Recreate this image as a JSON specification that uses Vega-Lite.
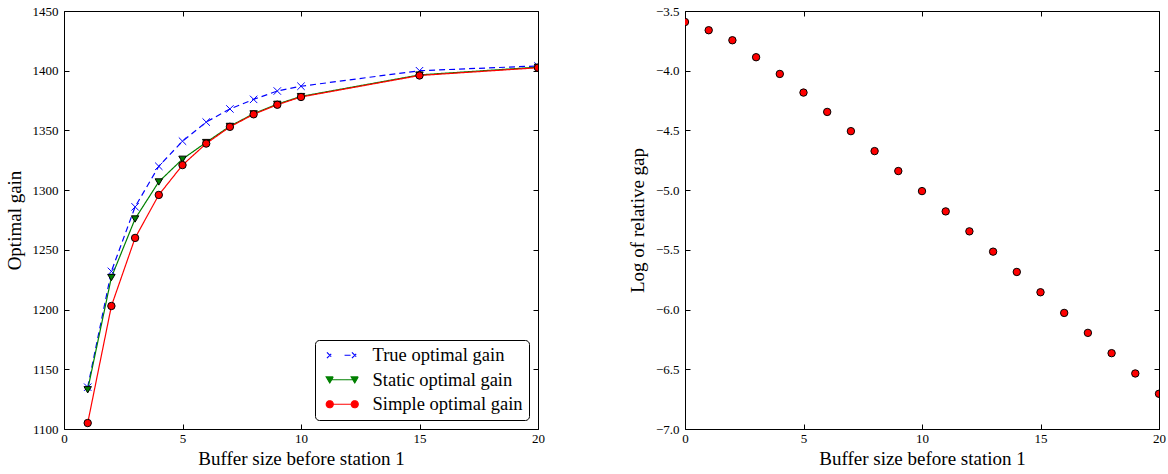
{
  "$schema": "https://vega.github.io/schema/vega-lite/v6.json",
  "padding": {"top": 5, "left": 5, "right": 2, "bottom": 2},
  "background": "white",
  "config": {
    "view": {"stroke": null},
    "font": "Liberation Serif",
    "axis": {
      "labelFont": "Liberation Serif", "labelFontSize": 13, "labelColor": "black",
      "titleFont": "Liberation Serif", "titleFontSize": 19, "titleFontWeight": "normal", "titleColor": "black",
      "domainColor": "black", "domainWidth": 1, "tickColor": "black", "tickWidth": 1, "tickSize": -5,
      "grid": false, "labelFlush": false, "labelOverlap": false
    },
    "axisX": {"labelPadding": 8, "titlePadding": 4},
    "axisY": {"labelPadding": 11, "titlePadding": 8}
  },
  "resolve": {
    "scale": {"color": "independent", "strokeDash": "independent"},
    "legend": {"color": "independent", "strokeDash": "independent"}
  },
  "spacing": 83,
  "hconcat": [
    {
      "width": 474, "height": 418,
      "data": {"values": [
        {"x": 1, "gain": 1135, "series": "True optimal gain"},
        {"x": 2, "gain": 1232, "series": "True optimal gain"},
        {"x": 3, "gain": 1286, "series": "True optimal gain"},
        {"x": 4, "gain": 1320, "series": "True optimal gain"},
        {"x": 5, "gain": 1341, "series": "True optimal gain"},
        {"x": 6, "gain": 1357, "series": "True optimal gain"},
        {"x": 7, "gain": 1368, "series": "True optimal gain"},
        {"x": 8, "gain": 1376, "series": "True optimal gain"},
        {"x": 9, "gain": 1383, "series": "True optimal gain"},
        {"x": 10, "gain": 1387, "series": "True optimal gain"},
        {"x": 15, "gain": 1400, "series": "True optimal gain"},
        {"x": 20, "gain": 1404, "series": "True optimal gain"},
        {"x": 1, "gain": 1133, "series": "Static optimal gain"},
        {"x": 2, "gain": 1227, "series": "Static optimal gain"},
        {"x": 3, "gain": 1276, "series": "Static optimal gain"},
        {"x": 4, "gain": 1307, "series": "Static optimal gain"},
        {"x": 5, "gain": 1326, "series": "Static optimal gain"},
        {"x": 6, "gain": 1340, "series": "Static optimal gain"},
        {"x": 7, "gain": 1353.5, "series": "Static optimal gain"},
        {"x": 8, "gain": 1364, "series": "Static optimal gain"},
        {"x": 9, "gain": 1372, "series": "Static optimal gain"},
        {"x": 10, "gain": 1378.5, "series": "Static optimal gain"},
        {"x": 15, "gain": 1396.5, "series": "Static optimal gain"},
        {"x": 20, "gain": 1403, "series": "Static optimal gain"},
        {"x": 1, "gain": 1105, "series": "Simple optimal gain"},
        {"x": 2, "gain": 1203, "series": "Simple optimal gain"},
        {"x": 3, "gain": 1260, "series": "Simple optimal gain"},
        {"x": 4, "gain": 1296, "series": "Simple optimal gain"},
        {"x": 5, "gain": 1321, "series": "Simple optimal gain"},
        {"x": 6, "gain": 1339, "series": "Simple optimal gain"},
        {"x": 7, "gain": 1353, "series": "Simple optimal gain"},
        {"x": 8, "gain": 1363.5, "series": "Simple optimal gain"},
        {"x": 9, "gain": 1371.5, "series": "Simple optimal gain"},
        {"x": 10, "gain": 1378, "series": "Simple optimal gain"},
        {"x": 15, "gain": 1396, "series": "Simple optimal gain"},
        {"x": 20, "gain": 1402.5, "series": "Simple optimal gain"}
      ]},
      "layer": [
        {
          "mark": {"type": "line", "strokeWidth": 1.2, "clip": true},
          "encoding": {
            "x": {"field": "x", "type": "quantitative", "scale": {"domain": [0, 20], "nice": false, "zero": false},
                  "axis": {"orient": "bottom", "title": "Buffer size before station 1", "values": [0, 5, 10, 15, 20]}},
            "y": {"field": "gain", "type": "quantitative", "scale": {"domain": [1100, 1450], "nice": false, "zero": false},
                  "axis": {"orient": "left", "title": "Optimal gain", "format": "d", "values": [1100, 1150, 1200, 1250, 1300, 1350, 1400, 1450]}},
            "color": {"field": "series", "type": "nominal",
              "scale": {"domain": ["True optimal gain", "Static optimal gain", "Simple optimal gain"], "range": ["#0000ff", "#008000", "#ff0000"]},
              "legend": {
                "title": null, "orient": "bottom-right", "offset": 9, "padding": 6, "cornerRadius": 4,
                "strokeColor": "black", "fillColor": "white", "labelFont": "Liberation Serif", "labelFontSize": 18.5,
                "labelColor": "black", "labelLimit": 400, "symbolSize": 49, "symbolOffset": 12, "labelOffset": 21,
                "rowPadding": 5.5, "symbolStrokeWidth": 1.2,
                "encode": {"symbols": {"update": {
                  "shape": {"signal": "datum.value === 'True optimal gain' ? 'M-4.37,-0.8L-2.77,0.8M-4.37,0.8L-2.77,-0.8M0.66,0L3.57,0M2.77,-0.8L4.37,0.8M2.77,0.8L4.37,-0.8' : datum.value === 'Static optimal gain' ? 'M-4.57,-0.8L-2.57,-0.8L-3.57,0.9ZM-2.9,0L2.9,0M2.57,-0.8L4.57,-0.8L3.57,0.9Z' : 'M-2.57,0A1,1,0,1,1,-4.57,0A1,1,0,1,1,-2.57,0ZM-2.57,0L2.57,0M4.57,0A1,1,0,1,1,2.57,0A1,1,0,1,1,4.57,0Z'"},
                  "fill": {"signal": "datum.value === 'True optimal gain' ? 'transparent' : datum.value === 'Static optimal gain' ? '#008000' : '#ff0000'"},
                  "stroke": {"signal": "datum.value === 'True optimal gain' ? '#0000ff' : datum.value === 'Static optimal gain' ? '#008000' : '#ff0000'"},
                  "strokeDash": {"value": [1, 0]},
                  "strokeWidth": {"value": 1.2},
                  "opacity": {"value": 1}
                }}}
              }},
            "strokeDash": {"field": "series", "type": "nominal",
              "scale": {"domain": ["True optimal gain", "Static optimal gain", "Simple optimal gain"], "range": [[6, 4], [1, 0], [1, 0]]},
              "legend": null}
          }
        },
        {
          "transform": [{"filter": "datum.series === 'True optimal gain'"}],
          "mark": {"type": "point", "shape": "M-1,-1L1,1M-1,1L1,-1", "size": 55, "opacity": 1, "strokeWidth": 1, "fill": "transparent", "stroke": "#0000ff", "clip": true},
          "encoding": {
            "x": {"field": "x", "type": "quantitative", "axis": {"orient": "top", "labels": false, "title": null, "values": [0, 5, 10, 15, 20]}},
            "y": {"field": "gain", "type": "quantitative", "axis": {"orient": "right", "labels": false, "title": null, "values": [1100, 1150, 1200, 1250, 1300, 1350, 1400, 1450]}}
          }
        },
        {
          "transform": [{"filter": "datum.series === 'Static optimal gain'"}],
          "mark": {"type": "point", "shape": "M-1,-0.8L1,-0.8L0,0.9Z", "size": 55, "opacity": 1, "strokeWidth": 1, "filled": true, "fill": "#008000", "stroke": "black", "clip": true},
          "encoding": {
            "x": {"field": "x", "type": "quantitative", "axis": null},
            "y": {"field": "gain", "type": "quantitative", "axis": null}
          }
        },
        {
          "transform": [{"filter": "datum.series === 'Simple optimal gain'"}],
          "mark": {"type": "point", "shape": "circle", "size": 55, "opacity": 1, "strokeWidth": 1, "filled": true, "fill": "#ff0000", "stroke": "black", "clip": true},
          "encoding": {
            "x": {"field": "x", "type": "quantitative", "axis": null},
            "y": {"field": "gain", "type": "quantitative", "axis": null}
          }
        }
      ],
      "resolve": {"axis": {"x": "independent", "y": "independent"}}
    },
    {
      "width": 474, "height": 418,
      "data": {"values": [
        {"x": 0, "gap": -3.592}, {"x": 1, "gap": -3.661}, {"x": 2, "gap": -3.745}, {"x": 3, "gap": -3.887},
        {"x": 4, "gap": -4.027}, {"x": 5, "gap": -4.183}, {"x": 6, "gap": -4.345}, {"x": 7, "gap": -4.506},
        {"x": 8, "gap": -4.673}, {"x": 9, "gap": -4.84}, {"x": 10, "gap": -5.008}, {"x": 11, "gap": -5.178},
        {"x": 12, "gap": -5.345}, {"x": 13, "gap": -5.515}, {"x": 14, "gap": -5.685}, {"x": 15, "gap": -5.855},
        {"x": 16, "gap": -6.028}, {"x": 17, "gap": -6.195}, {"x": 18, "gap": -6.365}, {"x": 19, "gap": -6.535},
        {"x": 20, "gap": -6.705}
      ]},
      "layer": [
        {
          "mark": {"type": "point", "shape": "circle", "size": 55, "filled": true, "fill": "#ff0000", "stroke": "black", "strokeWidth": 1, "opacity": 1, "clip": true},
          "encoding": {
            "x": {"field": "x", "type": "quantitative", "scale": {"domain": [0, 20], "nice": false, "zero": false},
                  "axis": {"orient": "bottom", "title": "Buffer size before station 1", "values": [0, 5, 10, 15, 20]}},
            "y": {"field": "gap", "type": "quantitative", "scale": {"domain": [-7, -3.5], "nice": false, "zero": false},
                  "axis": {"orient": "left", "title": "Log of relative gap", "format": ".1f", "values": [-7, -6.5, -6, -5.5, -5, -4.5, -4, -3.5]}}
          }
        },
        {
          "mark": {"type": "point", "opacity": 0, "clip": true},
          "encoding": {
            "x": {"field": "x", "type": "quantitative", "axis": {"orient": "top", "labels": false, "title": null, "values": [0, 5, 10, 15, 20]}},
            "y": {"field": "gap", "type": "quantitative", "axis": {"orient": "right", "labels": false, "title": null, "values": [-7, -6.5, -6, -5.5, -5, -4.5, -4, -3.5]}}
          }
        }
      ],
      "resolve": {"axis": {"x": "independent", "y": "independent"}}
    }
  ]
}
